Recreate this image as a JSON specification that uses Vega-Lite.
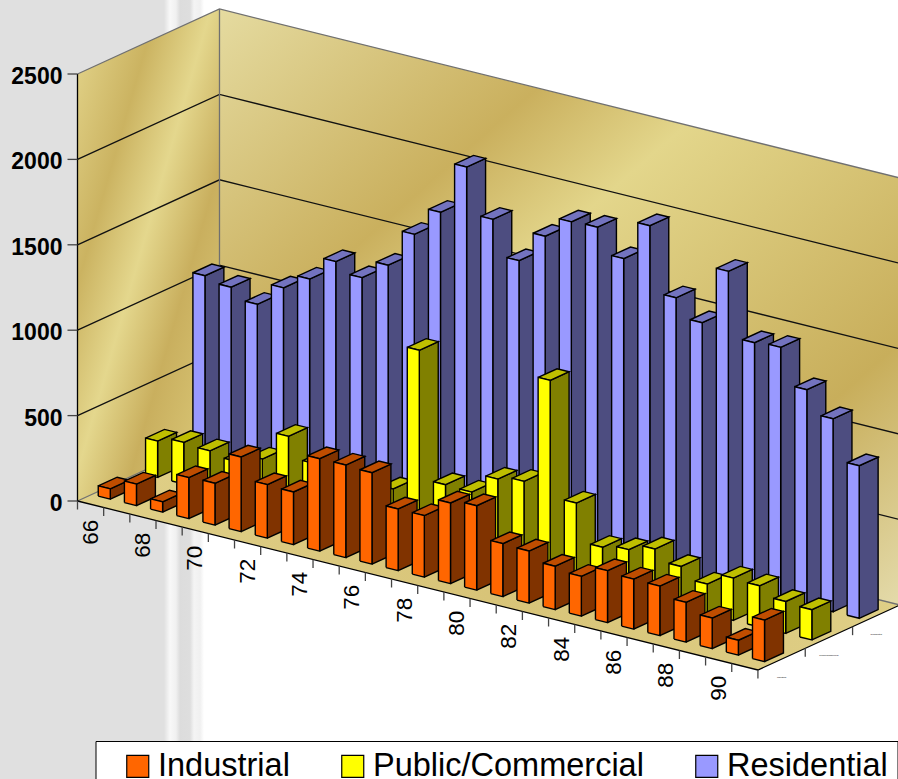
{
"$schema":"https://vega.github.io/schema/vega-lite/v6.json",
"width":898,"height":779,"padding":0,"autosize":{"type":"none"},
"background":"#ffffff",
"view":{"stroke":null,"fill":{"gradient":"linear","x1":0,"y1":0,"x2":1,"y2":0,"stops":[
{"offset":0,"color":"#e0e0e0"},{"offset":0.1826,"color":"#e0e0e0"},{"offset":0.1893,"color":"#f8f8f8"},{"offset":0.196,"color":"#f0f0f0"},{"offset":0.2005,"color":"#dcdcdc"},{"offset":0.2116,"color":"#dedede"},{"offset":0.2161,"color":"#f4f4f4"},{"offset":0.2227,"color":"#f0f0f0"},{"offset":0.2272,"color":"#ffffff"},{"offset":1,"color":"#ffffff"}]}},
"config":{"font":"Liberation Sans"},
"datasets":{
"bars":[
{"year":66,"series":"Residential","value":1054},{"year":67,"series":"Residential","value":1025},{"year":68,"series":"Residential","value":963},{"year":69,"series":"Residential","value":1097},{"year":70,"series":"Residential","value":1187},{"year":71,"series":"Residential","value":1327},{"year":72,"series":"Residential","value":1271},{"year":73,"series":"Residential","value":1382},{"year":74,"series":"Residential","value":1601},{"year":75,"series":"Residential","value":1768},{"year":76,"series":"Residential","value":2071},{"year":77,"series":"Residential","value":1803},{"year":78,"series":"Residential","value":1599},{"year":79,"series":"Residential","value":1780},{"year":80,"series":"Residential","value":1902},{"year":81,"series":"Residential","value":1909},{"year":82,"series":"Residential","value":1763},{"year":83,"series":"Residential","value":1994},{"year":84,"series":"Residential","value":1610},{"year":85,"series":"Residential","value":1502},{"year":86,"series":"Residential","value":1841},{"year":87,"series":"Residential","value":1461},{"year":88,"series":"Residential","value":1472},{"year":89,"series":"Residential","value":1262},{"year":90,"series":"Residential","value":1130},{"year":91,"series":"Residential","value":893},
{"year":66,"series":"Public/Commercial","value":213},{"year":67,"series":"Public/Commercial","value":243},{"year":68,"series":"Public/Commercial","value":232},{"year":69,"series":"Public/Commercial","value":208},{"year":70,"series":"Public/Commercial","value":260},{"year":71,"series":"Public/Commercial","value":431},{"year":72,"series":"Public/Commercial","value":309},{"year":73,"series":"Public/Commercial","value":300},{"year":74,"series":"Public/Commercial","value":300},{"year":75,"series":"Public/Commercial","value":275},{"year":76,"series":"Public/Commercial","value":1125},{"year":77,"series":"Public/Commercial","value":376},{"year":78,"series":"Public/Commercial","value":371},{"year":79,"series":"Public/Commercial","value":485},{"year":80,"series":"Public/Commercial","value":510},{"year":81,"series":"Public/Commercial","value":1139},{"year":82,"series":"Public/Commercial","value":459},{"year":83,"series":"Public/Commercial","value":238},{"year":84,"series":"Public/Commercial","value":262},{"year":85,"series":"Public/Commercial","value":304},{"year":86,"series":"Public/Commercial","value":240},{"year":87,"series":"Public/Commercial","value":175},{"year":88,"series":"Public/Commercial","value":248},{"year":89,"series":"Public/Commercial","value":241},{"year":90,"series":"Public/Commercial","value":187},{"year":91,"series":"Public/Commercial","value":177},
{"year":66,"series":"Industrial","value":60},{"year":67,"series":"Industrial","value":126},{"year":68,"series":"Industrial","value":60},{"year":69,"series":"Industrial","value":240},{"year":70,"series":"Industrial","value":245},{"year":71,"series":"Industrial","value":437},{"year":72,"series":"Industrial","value":313},{"year":73,"series":"Industrial","value":308},{"year":74,"series":"Industrial","value":541},{"year":75,"series":"Industrial","value":542},{"year":76,"series":"Industrial","value":535},{"year":77,"series":"Industrial","value":361},{"year":78,"series":"Industrial","value":360},{"year":79,"series":"Industrial","value":472},{"year":80,"series":"Industrial","value":494},{"year":81,"series":"Industrial","value":310},{"year":82,"series":"Industrial","value":305},{"year":83,"series":"Industrial","value":254},{"year":84,"series":"Industrial","value":233},{"year":85,"series":"Industrial","value":304},{"year":86,"series":"Industrial","value":293},{"year":87,"series":"Industrial","value":290},{"year":88,"series":"Industrial","value":233},{"year":89,"series":"Industrial","value":179},{"year":90,"series":"Industrial","value":87},{"year":91,"series":"Industrial","value":243}
],
"planes":[
{"plane":"left","n":0,"i":0,"d":0,"v":0},{"plane":"left","n":1,"i":0,"d":3,"v":0},{"plane":"left","n":2,"i":0,"d":3,"v":2500},{"plane":"left","n":3,"i":0,"d":0,"v":2500},
{"plane":"back","n":0,"i":0,"d":3,"v":0},{"plane":"back","n":1,"i":26,"d":3,"v":0},{"plane":"back","n":2,"i":26,"d":3,"v":2500},{"plane":"back","n":3,"i":0,"d":3,"v":2500},
{"plane":"floor","n":0,"i":0,"d":0,"v":0},{"plane":"floor","n":1,"i":26,"d":0,"v":0},{"plane":"floor","n":2,"i":26,"d":3,"v":0},{"plane":"floor","n":3,"i":0,"d":3,"v":0}
],
"frame":[
{"kind":"grid","line":"g500","n":0,"i":0,"d":0,"v":500},{"kind":"grid","line":"g500","n":1,"i":0,"d":3,"v":500},{"kind":"grid","line":"g500","n":2,"i":26,"d":3,"v":500},
{"kind":"grid","line":"g1000","n":0,"i":0,"d":0,"v":1000},{"kind":"grid","line":"g1000","n":1,"i":0,"d":3,"v":1000},{"kind":"grid","line":"g1000","n":2,"i":26,"d":3,"v":1000},
{"kind":"grid","line":"g1500","n":0,"i":0,"d":0,"v":1500},{"kind":"grid","line":"g1500","n":1,"i":0,"d":3,"v":1500},{"kind":"grid","line":"g1500","n":2,"i":26,"d":3,"v":1500},
{"kind":"grid","line":"g2000","n":0,"i":0,"d":0,"v":2000},{"kind":"grid","line":"g2000","n":1,"i":0,"d":3,"v":2000},{"kind":"grid","line":"g2000","n":2,"i":26,"d":3,"v":2000},
{"kind":"edge","line":"top","n":0,"i":0,"d":0,"v":2500},{"kind":"edge","line":"top","n":1,"i":0,"d":3,"v":2500},{"kind":"edge","line":"top","n":2,"i":26,"d":3,"v":2500},
{"kind":"edge","line":"base","n":0,"i":0,"d":0,"v":0},{"kind":"edge","line":"base","n":1,"i":0,"d":3,"v":0},{"kind":"edge","line":"base","n":2,"i":26,"d":3,"v":0},
{"kind":"edge","line":"corner","n":0,"i":0,"d":3,"v":0},{"kind":"edge","line":"corner","n":1,"i":0,"d":3,"v":2500},
{"kind":"axis","line":"valueAxis","n":0,"i":0,"d":0,"v":0},{"kind":"axis","line":"valueAxis","n":1,"i":0,"d":0,"v":2500},
{"kind":"axis","line":"front","n":0,"i":0,"d":0,"v":0},{"kind":"axis","line":"front","n":1,"i":26,"d":0,"v":0},{"kind":"axis","line":"front","n":2,"i":26,"d":3,"v":0}
],
"ticks":[
{"axis":"value","i":0,"d":0,"v":0},{"axis":"value","i":0,"d":0,"v":500},{"axis":"value","i":0,"d":0,"v":1000},{"axis":"value","i":0,"d":0,"v":1500},{"axis":"value","i":0,"d":0,"v":2000},{"axis":"value","i":0,"d":0,"v":2500},
{"axis":"year","i":0,"d":0,"v":0},{"axis":"year","i":1,"d":0,"v":0},{"axis":"year","i":2,"d":0,"v":0},{"axis":"year","i":3,"d":0,"v":0},{"axis":"year","i":4,"d":0,"v":0},{"axis":"year","i":5,"d":0,"v":0},{"axis":"year","i":6,"d":0,"v":0},{"axis":"year","i":7,"d":0,"v":0},{"axis":"year","i":8,"d":0,"v":0},{"axis":"year","i":9,"d":0,"v":0},{"axis":"year","i":10,"d":0,"v":0},{"axis":"year","i":11,"d":0,"v":0},{"axis":"year","i":12,"d":0,"v":0},{"axis":"year","i":13,"d":0,"v":0},{"axis":"year","i":14,"d":0,"v":0},{"axis":"year","i":15,"d":0,"v":0},{"axis":"year","i":16,"d":0,"v":0},{"axis":"year","i":17,"d":0,"v":0},{"axis":"year","i":18,"d":0,"v":0},{"axis":"year","i":19,"d":0,"v":0},{"axis":"year","i":20,"d":0,"v":0},{"axis":"year","i":21,"d":0,"v":0},{"axis":"year","i":22,"d":0,"v":0},{"axis":"year","i":23,"d":0,"v":0},{"axis":"year","i":24,"d":0,"v":0},{"axis":"year","i":25,"d":0,"v":0},{"axis":"year","i":26,"d":0,"v":0},
{"axis":"year","i":26,"d":1,"v":0},{"axis":"year","i":26,"d":2,"v":0},{"axis":"year","i":26,"d":3,"v":0}
],
"labels":[
{"axis":"value","label":"0","i":0,"d":0,"v":0},{"axis":"value","label":"500","i":0,"d":0,"v":500},{"axis":"value","label":"1000","i":0,"d":0,"v":1000},{"axis":"value","label":"1500","i":0,"d":0,"v":1500},{"axis":"value","label":"2000","i":0,"d":0,"v":2000},{"axis":"value","label":"2500","i":0,"d":0,"v":2500},
{"axis":"year","label":"66","i":0.5,"d":0,"v":0},{"axis":"year","label":"68","i":2.5,"d":0,"v":0},{"axis":"year","label":"70","i":4.5,"d":0,"v":0},{"axis":"year","label":"72","i":6.5,"d":0,"v":0},{"axis":"year","label":"74","i":8.5,"d":0,"v":0},{"axis":"year","label":"76","i":10.5,"d":0,"v":0},{"axis":"year","label":"78","i":12.5,"d":0,"v":0},{"axis":"year","label":"80","i":14.5,"d":0,"v":0},{"axis":"year","label":"82","i":16.5,"d":0,"v":0},{"axis":"year","label":"84","i":18.5,"d":0,"v":0},{"axis":"year","label":"86","i":20.5,"d":0,"v":0},{"axis":"year","label":"88","i":22.5,"d":0,"v":0},{"axis":"year","label":"90","i":24.5,"d":0,"v":0},
{"axis":"depth","label":"Industrial","i":26,"d":0.5,"v":0},{"axis":"depth","label":"Public/Commercial","i":26,"d":1.5,"v":0},{"axis":"depth","label":"Residential","i":26,"d":2.5,"v":0}
]},
"encoding":{
"x":{"field":"px","type":"quantitative","axis":null,"scale":{"domain":[0,898],"nice":false,"zero":false}},
"y":{"field":"py","type":"quantitative","axis":null,"scale":{"domain":[0,779],"reverse":true,"nice":false,"zero":false}}
},
"layer":[
{"data":{"name":"bars"},
"transform":[
{"calculate":"indexof(['Industrial','Public/Commercial','Residential'],datum.series)","as":"s"},
{"calculate":"77.5+26.17*(datum.year-66)+47.33*(datum.s+0.5)","as":"px"},
{"calculate":"501+6.5*(datum.year-66)-21.67*(datum.s+0.5)","as":"py"}],
"mark":{"type":"square","size":0.1,"opacity":1,"stroke":"#000000","strokeWidth":0},
"encoding":{"color":{"field":"series","type":"nominal",
"scale":{"domain":["Industrial","Public/Commercial","Residential"],"range":["#ff6600","#ffff00","#9999ff"]},
"legend":{"title":null,"orient":"none","legendX":95.5,"legendY":741,"direction":"horizontal","columns":3,"padding":9,"fillColor":"#ffffff","strokeColor":"#000000","symbolType":"square","symbolSize":484,"symbolOpacity":1,"symbolStrokeColor":"#000000","symbolStrokeWidth":1.2,"symbolOffset":17,"labelOffset":4,"labelFont":"Liberation Sans","labelFontSize":32.5,"labelColor":"#000000","columnPadding":29,"labelLimit":400,"rowPadding":0}}}},
{"data":{"name":"planes"},
"transform":[{"filter":"datum.plane=='left'"},
{"calculate":"77.5+26.17*datum.i+47.33*datum.d","as":"px"},
{"calculate":"501+6.5*datum.i-21.67*datum.d-0.1708*datum.v","as":"py"}],
"mark":{"type":"line","stroke":null,"fill":{"gradient":"linear","x1":0,"y1":0,"x2":1,"y2":1,"stops":[{"offset":0,"color":"#e5d78e"},{"offset":0.28,"color":"#cbb361"},{"offset":0.47,"color":"#e4d78d"},{"offset":0.66,"color":"#c9af5e"},{"offset":1,"color":"#e0d080"}]}},
"encoding":{"order":{"field":"n"}}},
{"data":{"name":"planes"},
"transform":[{"filter":"datum.plane=='back'"},
{"calculate":"77.5+26.17*datum.i+47.33*datum.d","as":"px"},
{"calculate":"501+6.5*datum.i-21.67*datum.d-0.1708*datum.v","as":"py"}],
"mark":{"type":"line","stroke":null,"fill":{"gradient":"linear","x1":0,"y1":0,"x2":1,"y2":1,"stops":[{"offset":0,"color":"#e5dba0"},{"offset":0.3,"color":"#cab05e"},{"offset":0.44,"color":"#e3d68b"},{"offset":0.78,"color":"#c8ae5b"},{"offset":1,"color":"#e4dbab"}]}},
"encoding":{"order":{"field":"n"}}},
{"data":{"name":"planes"},
"transform":[{"filter":"datum.plane=='floor'"},
{"calculate":"77.5+26.17*datum.i+47.33*datum.d","as":"px"},
{"calculate":"501+6.5*datum.i-21.67*datum.d-0.1708*datum.v","as":"py"}],
"mark":{"type":"line","stroke":null,"fill":{"gradient":"linear","x1":0,"y1":0,"x2":1,"y2":0,"stops":[{"offset":0,"color":"#e0d088"},{"offset":0.5,"color":"#d8c478"},{"offset":1,"color":"#dfcf86"}]}},
"encoding":{"order":{"field":"n"}}},
{"data":{"name":"frame"},
"transform":[
{"calculate":"77.5+26.17*datum.i+47.33*datum.d","as":"px"},
{"calculate":"501+6.5*datum.i-21.67*datum.d-0.1708*datum.v","as":"py"}],
"mark":{"type":"line","strokeWidth":1.3},
"encoding":{"detail":{"field":"line"},"order":{"field":"n"},
"stroke":{"field":"kind","type":"nominal","legend":null,"scale":{"domain":["grid","edge","axis"],"range":["#111111","#707070","#000000"]}}}},
{"data":{"name":"ticks"},
"transform":[
{"calculate":"77.5+26.17*datum.i+47.33*datum.d","as":"px"},
{"calculate":"501+6.5*datum.i-21.67*datum.d-0.1708*datum.v","as":"py"},
{"calculate":"datum.axis=='value'?datum.px-10:datum.px","as":"px2"},
{"calculate":"datum.axis=='value'?datum.py:datum.py+8.5","as":"py2"}],
"mark":{"type":"rule","stroke":"#444444","strokeWidth":1.3},
"encoding":{"x2":{"field":"px2"},"y2":{"field":"py2"}}},
{"data":{"name":"labels"},
"transform":[{"filter":"datum.axis=='value'"},
{"calculate":"77.5+26.17*datum.i+47.33*datum.d-15","as":"px"},
{"calculate":"501+6.5*datum.i-21.67*datum.d-0.1708*datum.v+3","as":"py"}],
"mark":{"type":"text","font":"Liberation Sans","fontWeight":"bold","fontSize":23,"align":"right","baseline":"middle","color":"#000000"},
"encoding":{"text":{"field":"label"}}},
{"data":{"name":"labels"},
"transform":[{"filter":"datum.axis=='year'"},
{"calculate":"77.5+26.17*datum.i+47.33*datum.d","as":"px"},
{"calculate":"501+6.5*datum.i-21.67*datum.d+28","as":"py"}],
"mark":{"type":"text","font":"Liberation Sans","fontSize":22.5,"angle":270,"align":"center","baseline":"middle","color":"#000000"},
"encoding":{"text":{"field":"label"}}},
{"data":{"name":"labels"},
"transform":[{"filter":"datum.axis=='depth'"},
{"calculate":"77.5+26.17*datum.i+47.33*datum.d","as":"px"},
{"calculate":"501+6.5*datum.i-21.67*datum.d+18","as":"py"}],
"mark":{"type":"text","font":"Liberation Sans","fontSize":2.3,"align":"center","baseline":"middle","color":"#000000"},
"encoding":{"text":{"field":"label"}}},
{"data":{"name":"bars"},
"transform":[
{"calculate":"indexof(['Industrial','Public/Commercial','Residential'],datum.series)","as":"s"},
{"calculate":"['side','top','front']","as":"face"},
{"flatten":["face"]},
{"calculate":"[0,1,2,3,4]","as":"vert"},
{"flatten":["vert"]},
{"calculate":"datum.year-66+0.25","as":"i0"},
{"calculate":"datum.i0+0.46","as":"i1"},
{"calculate":"datum.s+0.3","as":"d0"},
{"calculate":"datum.d0+0.4","as":"d1"},
{"calculate":"datum.face=='side'?datum.i1:((datum.vert==1||datum.vert==2)?datum.i1:datum.i0)","as":"pi"},
{"calculate":"datum.face=='front'?datum.d0:(datum.face=='top'?((datum.vert==2||datum.vert==3)?datum.d1:datum.d0):((datum.vert==1||datum.vert==2)?datum.d1:datum.d0))","as":"pd"},
{"calculate":"datum.face=='top'?datum.value:((datum.vert==2||datum.vert==3)?datum.value:0)","as":"pv"},
{"calculate":"77.5+26.17*datum.pi+47.33*datum.pd","as":"px"},
{"calculate":"501+6.5*datum.pi-21.67*datum.pd-0.1708*datum.pv","as":"py"},
{"calculate":"datum.series+' '+datum.face","as":"shade"},
{"calculate":"datum.series+' '+datum.year+' '+datum.face","as":"barFace"}],
"mark":{"type":"line","stroke":"#000000","strokeWidth":1.4,"strokeJoin":"miter"},
"encoding":{"detail":{"field":"barFace"},"order":{"field":"vert"},
"fill":{"field":"shade","type":"nominal","legend":null,"scale":{
"domain":["Industrial front","Industrial side","Industrial top","Public/Commercial front","Public/Commercial side","Public/Commercial top","Residential front","Residential side","Residential top"],
"range":["#ff6600","#803300","#bf4d00","#ffff00","#808000","#bfbf00","#9999ff","#4d4d80","#7373bf"]}}}}
],
"resolve":{"scale":{"fill":"independent"}}
}
